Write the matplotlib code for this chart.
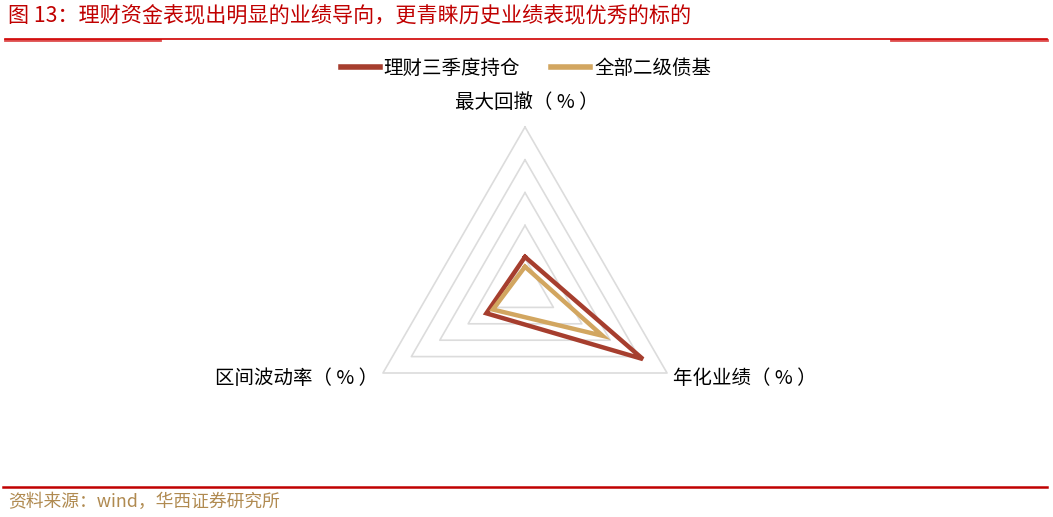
import numpy as np
import matplotlib
matplotlib.use("Agg")
import matplotlib.pyplot as plt
from matplotlib.lines import Line2D

plt.rcParams['font.family'] = ['Noto Sans CJK SC', 'DejaVu Sans']

# 维度（顺时针：上、右下、左下）
dims = ['最大回撤（ % ）', '年化业绩（ % ）', '区间波动率（ % ）']
angles = np.deg2rad([90, -30, 210])
n_rings = 5

series_names = ['理财三季度持仓', '全部二级债基']
licai = [1.04, 4.15, 1.36]
erji = [0.74, 2.73, 1.13]
colors = ['#A63E2E', '#D2A660']

W, H = 1053, 517
fig = plt.figure(figsize=(W / 100, H / 100), dpi=100)

# 雷达图区域：中心 (525, 291) 像素，外圈半径 164 像素
cx, cy, half = 525, 291, 200
ax = fig.add_axes([(cx - half) / W, (H - cy - half) / H, 2 * half / W, 2 * half / H])
lim = half / (164 / n_rings)
ax.set_xlim(-lim, lim)
ax.set_ylim(-lim, lim)
ax.axis('off')


def poly(vals):
    vals = np.asarray(vals, dtype=float)
    x = vals * np.cos(angles)
    y = vals * np.sin(angles)
    return np.append(x, x[0]), np.append(y, y[0])


# 网格三角形
for r in range(1, n_rings + 1):
    gx, gy = poly([r] * 3)
    ax.plot(gx, gy, color='#DCDCDC', lw=1.2, zorder=1)

for vals, c in zip([licai, erji], colors):
    px, py = poly(vals)
    ax.plot(px, py, color=c, lw=3.2, solid_joinstyle='miter', zorder=3)

# 维度标签
fig.text(527 / W, 1 - 103 / H, dims[0], ha='center', va='center', fontsize=14)
fig.text(745 / W, 1 - 378 / H, dims[1], ha='center', va='center', fontsize=14)
fig.text(297 / W, 1 - 378 / H, dims[2], ha='center', va='center', fontsize=14)

# 图例
handles = [Line2D([], [], color=c, lw=4) for c in colors]
fig.legend(handles, series_names, loc='center', bbox_to_anchor=(526 / W, 1 - 68 / H),
           ncol=2, frameon=False, fontsize=14, handlelength=2.0,
           handletextpad=0.2, columnspacing=1.6, borderpad=0)

# 标题与分隔线
fig.text(8 / W, 1 - 16 / H, '图 13：理财资金表现出明显的业绩导向，更青睐历史业绩表现优秀的标的',
         ha='left', va='center', fontsize=15.2, color='#C00000')
fig.add_artist(Line2D([5 / W, 1047 / W], [1 - 38.5 / H] * 2, color='#D00000', lw=1.2))
fig.add_artist(Line2D([5 / W, 160 / W], [1 - 39.5 / H] * 2, color='#D00000', lw=2, alpha=0.7))
fig.add_artist(Line2D([891 / W, 1047 / W], [1 - 39.5 / H] * 2, color='#D00000', lw=2, alpha=0.7))

fig.add_artist(Line2D([3 / W, 1047 / W], [1 - 487 / H] * 2, color='#C00000', lw=1.8))
fig.text(8 / W, 1 - 502 / H, '资料来源：wind，华西证券研究所', ha='left', va='center',
         fontsize=12.8, color='#B08A50')

fig.savefig('out.png', dpi=100)
